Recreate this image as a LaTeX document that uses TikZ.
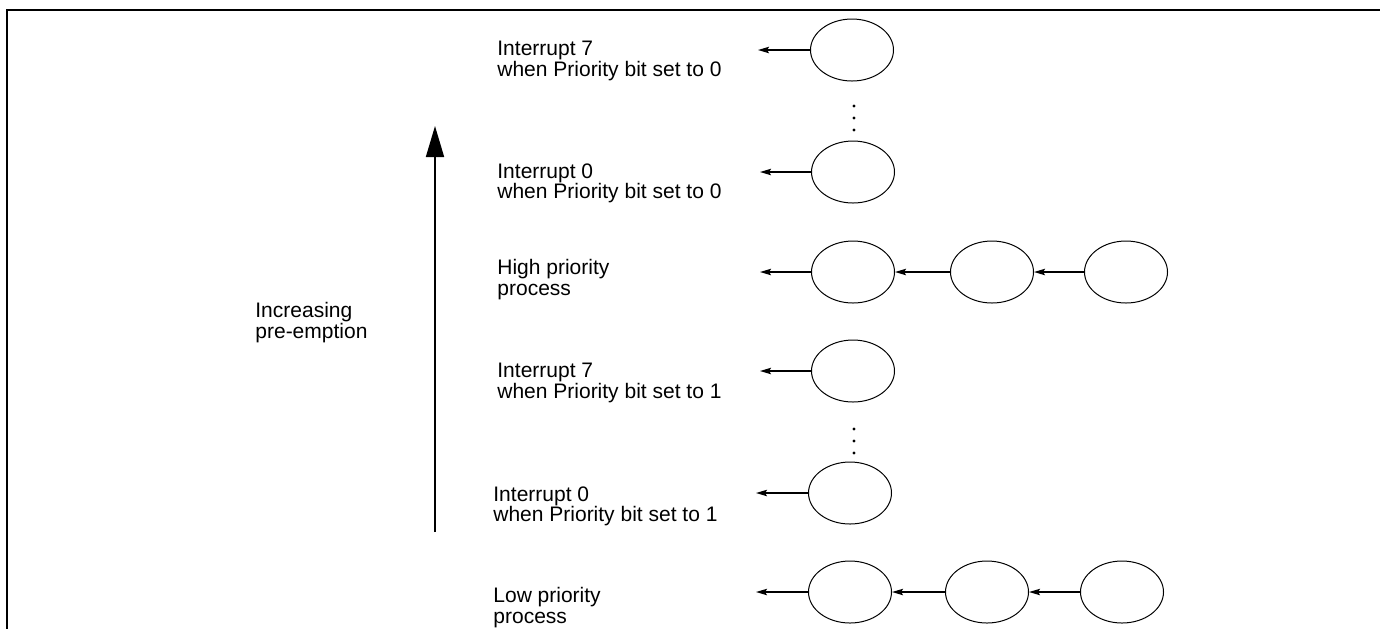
\documentclass[tikz,border=0pt]{standalone}
\usepackage{fontspec}
\setmainfont{Liberation Sans}
\usetikzlibrary{arrows.meta,shapes.geometric}
\begin{document}
\begin{tikzpicture}[x=0.5pt,y=-0.5pt,
  proc/.style={draw,ellipse,line width=0.5pt,inner sep=0pt,minimum width=41.5pt,minimum height=31pt},
  lbl/.style={anchor=north west,inner sep=0pt,align=left,font=\fontsize{10.5}{10.3}\selectfont},
  link/.style={line width=0.8pt,-{Stealth[length=5.5pt,width=3.2pt,inset=1pt]}},
  dot/.style={circle,fill,inner sep=0pt,minimum size=1.6pt}]
\useasboundingbox (0,0) rectangle (1380,629);
\draw[line width=0.85pt] (1380,10) -- (7,10) -- (7,629);
% big arrow
\coordinate (ab) at (435,532);
\coordinate (at) at (435,126);
\draw[line width=0.85pt,-{Triangle[length=15.5pt,width=9pt]}] (ab) -- (at);
\node[lbl] (inc) at (255,302) {Increasing\\pre-emption};
% row 1
\node[lbl] (t1) at (497,41) {Interrupt 7\\when Priority bit set to 0};
\node[proc] (e1) at (852,50) {};
\coordinate (c1) at (758,50);
\draw[link] (e1.west) -- (c1);
\node[dot] (d1) at (854,106) {};
\node[dot] (d2) at (854,118) {};
\node[dot] (d3) at (854,130) {};
% row 2
\node[lbl] (t2) at (497,163) {Interrupt 0\\when Priority bit set to 0};
\node[proc] (e2) at (853,172) {};
\coordinate (c2) at (760,172);
\draw[link] (e2.west) -- (c2);
% row 3
\node[lbl] (t3) at (497,259) {High priority\\process};
\node[proc] (e3a) at (853,272) {};
\node[proc] (e3b) at (992,272) {};
\node[proc] (e3c) at (1126,272) {};
\coordinate (c3) at (760,272);
\draw[link] (e3a.west) -- (c3);
\draw[link] (e3b.west) -- (e3a.east);
\draw[link] (e3c.west) -- (e3b.east);
% row 4
\node[lbl] (t4) at (497,363) {Interrupt 7\\when Priority bit set to 1};
\node[proc] (e4) at (853,371) {};
\coordinate (c4) at (760,371);
\draw[link] (e4.west) -- (c4);
\node[dot] (d4) at (854,429) {};
\node[dot] (d5) at (854,441) {};
\node[dot] (d6) at (854,453) {};
% row 5
\node[lbl] (t5) at (493,486) {Interrupt 0\\when Priority bit set to 1};
\node[proc] (e5) at (850,493) {};
\coordinate (c5) at (756,493);
\draw[link] (e5.west) -- (c5);
% row 6
\node[lbl] (t6) at (493,587) {Low priority\\process};
\node[proc] (e6a) at (850,592) {};
\node[proc] (e6b) at (987,592) {};
\node[proc] (e6c) at (1122,592) {};
\coordinate (c6) at (756,592);
\draw[link] (e6a.west) -- (c6);
\draw[link] (e6b.west) -- (e6a.east);
\draw[link] (e6c.west) -- (e6b.east);
\end{tikzpicture}
\end{document}
